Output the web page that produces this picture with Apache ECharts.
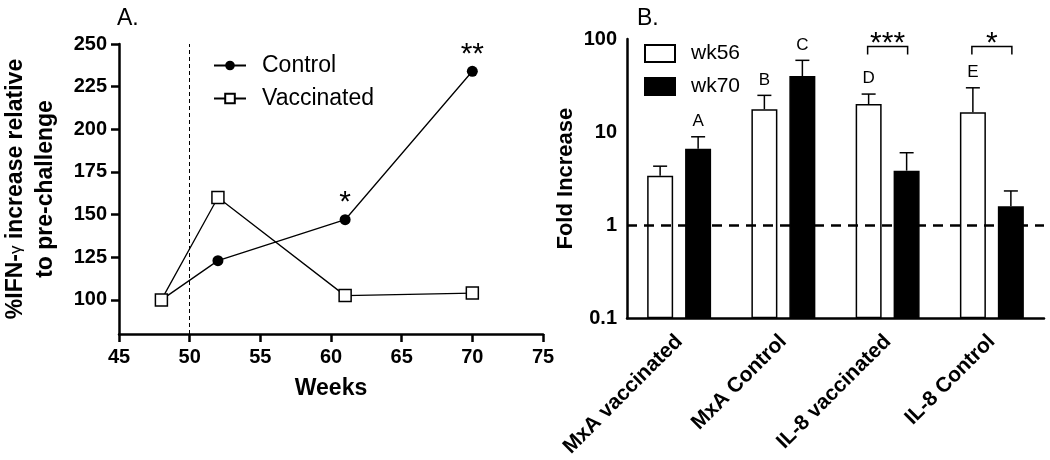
<!DOCTYPE html>
<html><head><meta charset="utf-8">
<script src="https://cdn.jsdelivr.net/npm/echarts@6/dist/echarts.min.js"></script>
<style>html,body{margin:0;padding:0;background:#fff}#c{width:1050px;height:460px}</style>
</head><body><div id="c"></div>
<script>
// ---- Panel A data ----
const weeks = [48, 52, 61, 70];
const controlVals = [100, 123, 147, 234];
const vaccinatedVals = [100, 160, 102.5, 104];
const controlMarks = ['', '', '*', '**'];
const leftYTicks = [100, 125, 150, 175, 200, 225, 250];
const challengeWeek = 50;

// ---- Panel B data ----
const genes = ['MxA vaccinated', 'MxA Control', 'IL-8 vaccinated', 'IL-8 Control'];
const wk56 = [3.4, 17.6, 20.0, 16.3];
const wk56Upper = [4.3, 24.8, 25.6, 29.9];
const wk70 = [6.6, 40, 3.85, 1.6];
const wk70Upper = [8.9, 59, 6.0, 2.33];
const wk56Letters = ['', 'B', 'D', 'E'];
const wk70Letters = ['A', 'C', '', ''];
const bracketCats = [2, 3];
const bracketLevels = [83, 83];
const bracketStars = ['***', '*'];
const baselineFold = 1;

const FONT = 'Liberation Sans, Arial, sans-serif';
const BAR_OFF = 19;

function errRender(offset, letters) {
  return function (params, api) {
    const i = api.value(0), mean = api.value(1), hi = api.value(2);
    const pm = api.coord([i, mean]);
    const ph = api.coord([i, hi]);
    const x = pm[0] + offset;
    const children = [
      { type: 'line', shape: { x1: x, y1: pm[1], x2: x, y2: ph[1] }, style: { stroke: '#000', lineWidth: 1.5 } },
      { type: 'line', shape: { x1: x - 7, y1: ph[1], x2: x + 7, y2: ph[1] }, style: { stroke: '#000', lineWidth: 1.5 } }
    ];
    const t = letters[params.dataIndex];
    if (t) {
      children.push({ type: 'text', x: x, y: ph[1] - 7,
        style: { text: t, textAlign: 'center', textVerticalAlign: 'bottom', font: '17px ' + FONT, fill: '#000' } });
    }
    return { type: 'group', children: children };
  };
}

function bracketRender(params, api) {
  const c = api.coord([api.value(0), api.value(1)]);
  const x1 = c[0] - 20, x2 = c[0] + 20, y = c[1];
  return { type: 'group', children: [
    { type: 'polyline', shape: { points: [[x1, y + 8], [x1, y], [x2, y], [x2, y + 8]] },
      style: { stroke: '#000', lineWidth: 1.5, fill: null } },
    { type: 'text', x: c[0], y: y + 12,
      style: { text: bracketStars[params.dataIndex], textAlign: 'center', textVerticalAlign: 'bottom',
        font: '30px ' + FONT, fill: '#000' } }
  ] };
}

const axisLineStyle = { show: true, lineStyle: { color: '#000', width: 2.5 } };
const tickLabel = { color: '#000', fontSize: 20, fontWeight: 'bold', fontFamily: FONT };

const option = {
  animation: false,
  backgroundColor: '#fff',
  title: [
    { text: 'A.', left: 112, top: 2, textStyle: { fontSize: 23, fontWeight: 'normal', color: '#000', fontFamily: FONT } },
    { text: 'B.', left: 632, top: 2, textStyle: { fontSize: 23, fontWeight: 'normal', color: '#000', fontFamily: FONT } }
  ],
  legend: [
    { orient: 'vertical', left: 208, top: 49, itemWidth: 32, itemHeight: 12, itemGap: 10,
      data: ['Control', 'Vaccinated'],
      textStyle: { fontSize: 23, color: '#000', fontFamily: FONT, lineHeight: 23, padding: [0, 0, 0, 11] } },
    { orient: 'vertical', left: 639, top: 38, itemWidth: 30, itemHeight: 17, itemGap: 12,
      data: [
        { name: 'wk56', icon: 'rect' },
        { name: 'wk70', icon: 'rect' }
      ],
      textStyle: { fontSize: 21, color: '#000', fontFamily: FONT, lineHeight: 21, padding: [0, 0, 0, 11] } }
  ],
  grid: [
    { left: 108, top: 44, width: 435, height: 290 },
    { left: 627, top: 39, width: 417, height: 281 }
  ],
  xAxis: [
    { type: 'value', gridIndex: 0, min: 45, max: 75, interval: 5,
      axisLine: axisLineStyle, axisTick: { length: 8, lineStyle: { color: '#000', width: 2.5 } },
      axisLabel: Object.assign({ margin: 13 }, tickLabel), splitLine: { show: false },
      name: 'Weeks', nameLocation: 'middle', nameGap: 43,
      nameTextStyle: { fontSize: 23, fontWeight: 'bold', color: '#000', fontFamily: FONT } },
    { type: 'category', gridIndex: 1, data: genes,
      axisLine: axisLineStyle, axisTick: { alignWithLabel: true, length: 8, lineStyle: { color: '#000', width: 2.5 } },
      axisLabel: { interval: 0, rotate: 45, margin: 20, color: '#000', fontSize: 21, fontWeight: 'bold', fontFamily: FONT } }
  ],
  yAxis: [
    { type: 'value', gridIndex: 0, min: 80, max: 250,
      axisLine: axisLineStyle,
      axisTick: { length: 8, customValues: leftYTicks, lineStyle: { color: '#000', width: 2.5 } },
      axisLabel: Object.assign({ margin: 12, customValues: leftYTicks }, tickLabel),
      splitLine: { show: false },
      name: '%IFN-{g|γ} increase relative\nto pre-challenge', nameLocation: 'middle', nameRotate: 90, nameGap: 58,
      nameTextStyle: { fontSize: 23, fontWeight: 'bold', color: '#000', fontFamily: FONT, lineHeight: 30,
        rich: { g: { fontSize: 17, fontWeight: 'normal', color: '#000', fontFamily: FONT, lineHeight: 30 } } } },
    { type: 'log', gridIndex: 1, logBase: 10, min: 0.1, max: 100, startValue: 0.1,
      axisLine: axisLineStyle,
      axisTick: { length: 8, lineStyle: { color: '#000', width: 2.5 } },
      minorTick: { show: false },
      axisLabel: Object.assign({ margin: 10 }, tickLabel),
      splitLine: { show: false },
      name: 'Fold Increase', nameLocation: 'middle', nameRotate: 90, nameGap: 50,
      nameTextStyle: { fontSize: 22, fontWeight: 'bold', color: '#000', fontFamily: FONT } }
  ],
  series: [
    { name: 'Control', type: 'line', xAxisIndex: 0, yAxisIndex: 0,
      data: weeks.map((w, i) => [w, controlVals[i]]),
      symbol: 'circle', symbolSize: 11,
      itemStyle: { color: '#000' }, lineStyle: { color: '#000', width: 1.3 },
      label: { show: true, position: 'top', distance: -4, color: '#000', fontSize: 30, fontFamily: FONT,
        formatter: p => controlMarks[p.dataIndex] },
      markLine: { silent: true, symbol: ['none', 'none'], label: { show: false },
        lineStyle: { color: '#000', width: 1, type: [4, 3] },
        data: [{ xAxis: challengeWeek }] } },
    { name: 'Vaccinated', type: 'line', xAxisIndex: 0, yAxisIndex: 0,
      data: weeks.map((w, i) => [w, vaccinatedVals[i]]),
      symbol: 'rect', symbolSize: 12,
      itemStyle: { color: '#fff', borderColor: '#000', borderWidth: 1.5 },
      lineStyle: { color: '#000', width: 1.3 } },
    { name: 'wk56', type: 'bar', xAxisIndex: 1, yAxisIndex: 1, data: wk56,
      barWidth: 26, barGap: '46%',
      itemStyle: { color: '#fff', borderColor: '#000', borderWidth: 1.5 },
      markLine: { silent: true, symbol: ['none', 'none'], label: { show: false },
        lineStyle: { color: '#000', width: 2.5, type: [10, 7] },
        data: [{ yAxis: baselineFold }] } },
    { name: 'wk70', type: 'bar', xAxisIndex: 1, yAxisIndex: 1, data: wk70,
      barWidth: 26, barGap: '46%',
      itemStyle: { color: '#000', borderColor: '#000', borderWidth: 1.5 } },
    { type: 'custom', xAxisIndex: 1, yAxisIndex: 1, z: 5, clip: false,
      renderItem: errRender(-BAR_OFF, wk56Letters), encode: { x: 0, y: [1, 2] },
      data: wk56.map((v, i) => [i, v, wk56Upper[i]]) },
    { type: 'custom', xAxisIndex: 1, yAxisIndex: 1, z: 5, clip: false,
      renderItem: errRender(BAR_OFF, wk70Letters), encode: { x: 0, y: [1, 2] },
      data: wk70.map((v, i) => [i, v, wk70Upper[i]]) },
    { type: 'custom', xAxisIndex: 1, yAxisIndex: 1, z: 5, clip: false,
      renderItem: bracketRender, encode: { x: 0, y: 1 },
      data: bracketCats.map((c, i) => [c, bracketLevels[i]]) }
  ]
};
const chart = echarts.init(document.getElementById('c'), null, { renderer: 'canvas' });
chart.setOption(option);
</script>
</body></html>
